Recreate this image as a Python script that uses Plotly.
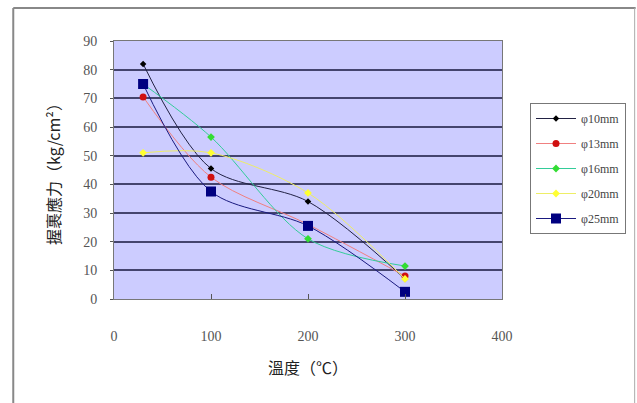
import plotly.graph_objects as go

temps = [30, 100, 200, 300]
series_names = ["φ10mm", "φ13mm", "φ16mm", "φ20mm", "φ25mm"]
phi10 = [82, 45.5, 34, 7]
phi13 = [70.5, 42.5, 26, 8]
phi16 = [75, 56.5, 21, 11.5]
phi20 = [51, 51, 37, 7]
phi25 = [75, 37.5, 25.5, 2.5]

x_ticks = [0, 100, 200, 300, 400]
y_ticks = [0, 10, 20, 30, 40, 50, 60, 70, 80, 90]

values = [phi10, phi13, phi16, phi20, phi25]
line_colors = ["#222244", "#F08080", "#33CC99", "#EEEE66", "#1A1A80"]
marker_colors = ["#000000", "#D01010", "#33DD33", "#FFFF33", "#000080"]
marker_symbols = ["diamond", "circle", "diamond", "diamond", "square"]
marker_sizes = [5, 7, 6, 6, 10]

fig = go.Figure()
for i, (name, vals, lc, mc, sym, sz) in enumerate(zip(series_names, values, line_colors,
                                                      marker_colors, marker_symbols, marker_sizes)):
    fig.add_trace(go.Scatter(
        x=temps, y=vals, name=name, mode="lines+markers", legendgroup=f"g{i}",
        line=dict(color=lc, width=1, shape="spline", smoothing=0.9),
        marker=dict(color=mc, symbol=sym, size=sz),
    ))

PW = 503 - 114
PH = 299 - 41
def px(x):
    return (x - 114) / PW
def py(y):
    return (299 - y) / PH

fig.update_layout(
    width=637, height=403,
    margin=dict(l=114, r=134, t=41, b=104),
    paper_bgcolor="white",
    plot_bgcolor="#CCCCFF",
    showlegend=True,
    legend=dict(
        x=px(530), y=py(103), xanchor="left", yanchor="top",
        bgcolor="white", bordercolor="#777777", borderwidth=1,
        font=dict(family="Liberation Serif", size=12, color="#444444"),
        itemwidth=40, tracegroupgap=6,
    ),
    xaxis=dict(
        range=[0, 400], tickvals=x_ticks, ticktext=[str(v) for v in x_ticks],
        showgrid=False, zeroline=False,
        ticks="inside", ticklen=5, tickcolor="#555555",
        showline=True, linecolor="#777777", linewidth=1, mirror=True,
        tickfont=dict(family="Liberation Serif", size=14, color="#555555"),
        ticklabelstandoff=24,
        title=dict(text="溫度（℃）", font=dict(family="Noto Sans CJK TC", size=16, color="#222222"),
                   standoff=20),
    ),
    yaxis=dict(
        range=[0, 90], tickvals=y_ticks, ticktext=[str(v) for v in y_ticks],
        showgrid=True, gridcolor="#44446E", gridwidth=1.5, zeroline=False,
        ticks="outside", ticklen=3, tickcolor="#555555",
        showline=True, linecolor="#777777", linewidth=1, mirror=True,
        tickfont=dict(family="Liberation Serif", size=14, color="#555555"),
        ticklabelstandoff=10,
        title=dict(text="握裹應力（kg/cm²）", font=dict(family="Noto Sans CJK TC", size=16, color="#222222"),
                   standoff=18),
    ),
    shapes=[
        dict(type="line", xref="paper", yref="paper", x0=px(13), x1=px(13), y0=py(8), y1=py(403),
             line=dict(color="#888888", width=2)),
        dict(type="line", xref="paper", yref="paper", x0=px(13), x1=px(637), y0=py(8), y1=py(8),
             line=dict(color="#888888", width=2)),
        dict(type="line", xref="paper", yref="paper", x0=px(636), x1=px(636), y0=py(8), y1=py(403),
             line=dict(color="#AAAAAA", width=1)),
    ],
)

fig.write_html("out.html")
